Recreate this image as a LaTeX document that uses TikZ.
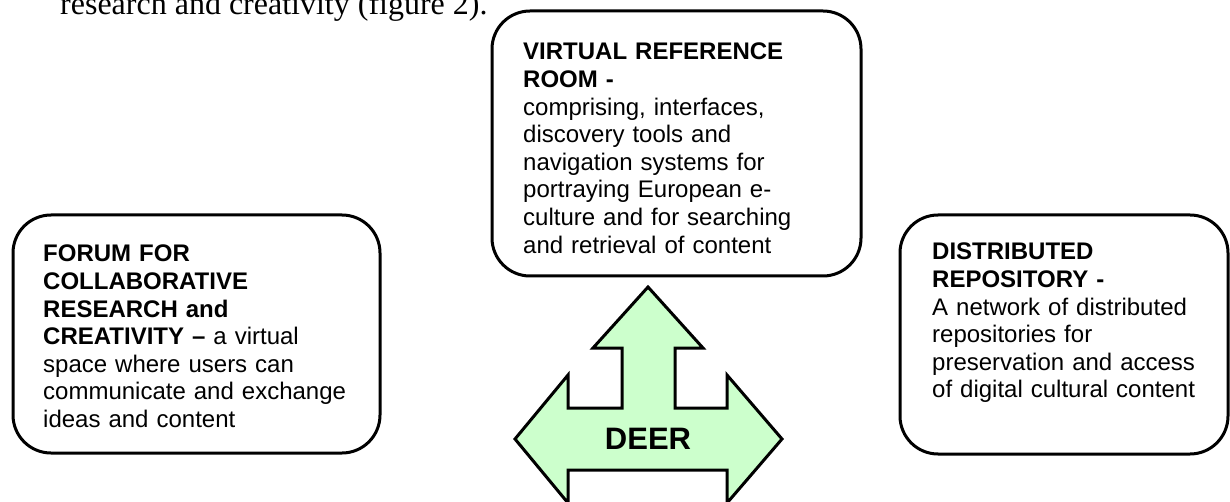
\documentclass[tikz,border=0pt]{standalone}
\usepackage{fontspec}
\setmainfont{Liberation Serif}
\newfontfamily\arialfont{Liberation Sans}
\definecolor{arrowgreen}{HTML}{CCFFCC}
\begin{document}
\begin{tikzpicture}[x=1pt,y=-1pt,
  roundbox/.style={draw=black, line width=3pt, rounded corners=38pt, fill=white},
  boxtext/.style={anchor=north west, inner sep=0pt, text width=360pt, align=left,
    font=\arialfont\fontsize{24}{27.6}\selectfont},
  caption/.style={anchor=base west, inner sep=0pt, font=\fontsize{32}{36}\selectfont}]
\useasboundingbox (0,0) rectangle (1230,502);
% caption line
\node[caption] (cap) at (60,15) {research and creativity (figure 2).};
% boxes
\draw[roundbox] (492,11) rectangle (861,276);
\draw[roundbox] (13,215) rectangle (380,453);
\draw[roundbox] (900,215) rectangle (1228,454);
% box texts
\node[boxtext] (vrr) at (523,43) {\textbf{VIRTUAL REFERENCE}\\\textbf{ROOM -}\\comprising, interfaces,\\discovery tools and\\navigation systems for\\portraying European e-\\culture and for searching\\and retrieval of content};
\node[boxtext] (forum) at (43,245) {\textbf{FORUM FOR}\\\textbf{COLLABORATIVE}\\\textbf{RESEARCH and}\\\textbf{CREATIVITY –} a virtual\\space where users can\\communicate and exchange\\ideas and content};
\node[boxtext] (repo) at (932,243) {\textbf{DISTRIBUTED}\\\textbf{REPOSITORY -}\\A network of distributed\\repositories for\\preservation and access\\of digital cultural content};
% DEER arrow
\draw[line width=3pt, line join=miter, fill=arrowgreen]
  (648,287) -- (703,348) -- (675,348) -- (675,408) -- (727,408) -- (727,375)
  -- (782,439) -- (727,503) -- (727,470) -- (568,470) -- (568,503)
  -- (515,439) -- (568,375) -- (568,408) -- (622,408) -- (622,348)
  -- (593,348) -- cycle;
\node[font=\arialfont\bfseries\fontsize{31}{36}\selectfont, inner sep=0pt] (deer) at (648,439) {DEER};
\end{tikzpicture}
\end{document}
